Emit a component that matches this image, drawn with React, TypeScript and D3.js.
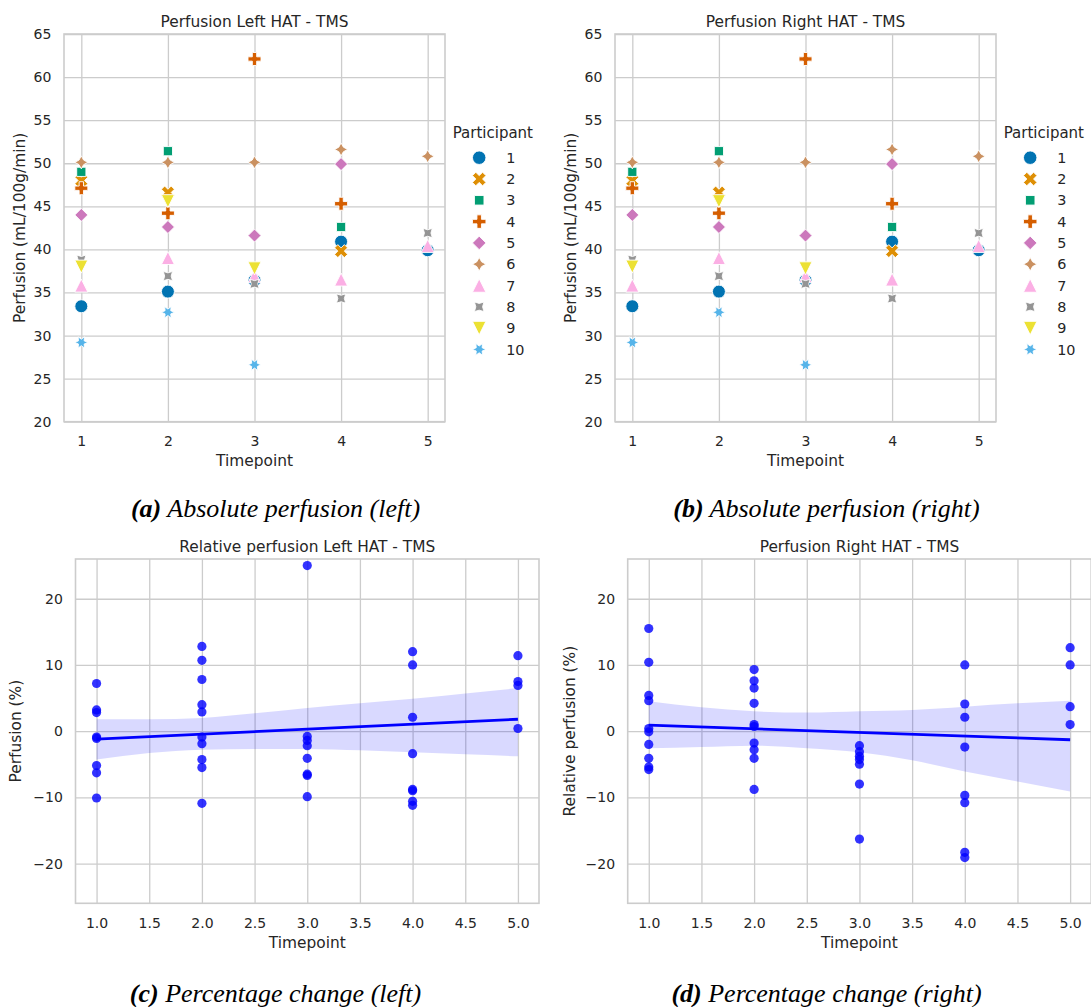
import React, { useEffect, useRef } from 'react'
import * as d3 from 'd3'

const timepoints = [1, 2, 3, 4, 5]
const participants = ['1', '2', '3', '4', '5', '6', '7', '8', '9', '10']
// seaborn "colorblind" palette
const palette = ['#0173b2', '#de8f05', '#029e73', '#d55e00', '#cc78bc', '#ca9161', '#fbafe4', '#949494', '#ece133', '#56b4e9']

// absolute perfusion (mL/100g/min), one row per participant, timepoints 1..5 (null = no scan)
const perfusionLeft: (number | null)[][] = [
  [33.4, 35.1, 36.4, 40.9, 39.9],
  [48.0, 46.6, null, 39.8, null],
  [49.0, 51.4, null, 42.6, null],
  [47.1, 44.2, 62.1, 45.3, null],
  [44.0, 42.6, 41.6, 49.9, null],
  [50.1, 50.1, 50.1, 51.6, 50.8],
  [35.8, 39.0, 36.9, 36.5, 40.4],
  [38.8, 36.9, 36.0, 34.3, 41.9],
  [38.0, 45.6, 37.8, null, null],
  [29.2, 32.7, 26.6, null, null],
]
// right panel shows the same values as the left one
const perfusionRight: (number | null)[][] = [
  [33.4, 35.1, 36.4, 40.9, 39.9],
  [48.0, 46.6, null, 39.8, null],
  [49.0, 51.4, null, 42.6, null],
  [47.1, 44.2, 62.1, 45.3, null],
  [44.0, 42.6, 41.6, 49.9, null],
  [50.1, 50.1, 50.1, 51.6, 50.8],
  [35.8, 39.0, 36.9, 36.5, 40.4],
  [38.8, 36.9, 36.0, 34.3, 41.9],
  [38.0, 45.6, 37.8, null, null],
  [29.2, 32.7, 26.6, null, null],
]

// relative change (%), one list per timepoint
const relLeft = [
  [7.2, 3.2, 2.8, -0.9, -1.1, -5.2, -6.3, -10.1],
  [12.8, 10.7, 7.8, 4.0, 2.9, -0.9, -1.9, -4.3, -5.5, -10.9],
  [25.0, -0.8, -1.4, -2.2, -4.1, -6.5, -6.7, -9.9],
  [12.0, 10.0, 2.1, -3.4, -8.8, -9.0, -10.6, -11.2],
  [11.4, 7.5, 6.9, 0.4],
]
const relRight = [
  [15.5, 10.4, 5.4, 4.6, 0.4, -0.1, -2.0, -4.1, -5.4, -5.8],
  [9.3, 7.6, 6.5, 4.2, 1.0, 0.7, -1.8, -2.8, -4.1, -8.8],
  [-2.2, -3.1, -3.8, -4.3, -5.0, -8.0, -16.3],
  [10.0, 4.1, 2.1, -2.4, -9.7, -10.8, -18.3, -19.1],
  [12.6, 10.0, 3.7, 1.0],
]

// regression line and its 95% band
const fitX = [1, 5]
const fitLeft = [-1.2, 1.8]
const fitRight = [0.9, -1.3]
const ciX = [1, 1.5, 2, 2.5, 3, 3.5, 4, 4.5, 5]
const ciLeftLow = [-4.3, -3.3, -2.8, -2.7, -2.7, -2.9, -3.2, -3.5, -3.8]
const ciLeftHigh = [1.8, 1.8, 2.0, 2.7, 3.5, 4.2, 4.9, 5.7, 6.5]
const ciRightLow = [-2.6, -2.4, -2.2, -2.6, -3.2, -4.4, -6.1, -7.6, -9.1]
const ciRightHigh = [4.5, 3.6, 3.0, 2.8, 3.0, 3.2, 3.7, 4.2, 4.6]

const absTicks = [20, 25, 30, 35, 40, 45, 50, 55, 60, 65]
const relTicks = [-20, -10, 0, 10, 20]
const relXTicks = [1, 1.5, 2, 2.5, 3, 3.5, 4, 4.5, 5]

const FONT = '"DejaVu Sans", sans-serif'
const SERIF = '"Liberation Serif", "Times New Roman", serif'
const INK = '#262626'
const GRID = '#cccccc'

type Pt = [number, number]
const poly = (pts: Pt[]) => 'M' + pts.map(p => p[0].toFixed(2) + ',' + p[1].toFixed(2)).join('L') + 'Z'

// matplotlib-style regular polygon / star, outer radius size/2
function regular(n: number, rot: number, size: number, star: boolean) {
  const k = star ? n * 2 : n
  const pts: Pt[] = []
  for (let i = 0; i < k; i++) {
    const a = ((90 + rot + (i * 360) / k) * Math.PI) / 180
    const r = ((star && i % 2 === 1 ? 0.5 : 1) * size) / 2
    pts.push([r * Math.cos(a), -r * Math.sin(a)])
  }
  return poly(pts)
}

const X_PTS: Pt[] = [[-1, -2], [0, -1], [1, -2], [2, -1], [1, 0], [2, 1], [1, 2], [0, 1], [-1, 2], [-2, 1], [-1, 0], [-2, -1]]
const P_PTS: Pt[] = [[-1, -3], [1, -3], [1, -1], [3, -1], [3, 1], [1, 1], [1, 3], [-1, 3], [-1, 1], [-3, 1], [-3, -1], [-1, -1]]

// seaborn default style markers: o, X, (4,0,45), P, (4,0,0), (4,1,0), ^, (4,1,45), v, (6,1,30)
function markerPath(i: number, size: number) {
  const h = size / 2
  switch (i) {
    case 0: return `M${h},0A${h},${h} 0 1 1 ${-h},0A${h},${h} 0 1 1 ${h},0Z`
    case 1: return poly(X_PTS.map(([x, y]) => [(x / 4) * size, (-y / 4) * size] as Pt))
    case 2: return regular(4, 45, size, false)
    case 3: return poly(P_PTS.map(([x, y]) => [(x / 6) * size, (-y / 6) * size] as Pt))
    case 4: return regular(4, 0, size, false)
    case 5: return regular(4, 0, size, true)
    case 6: return poly([[0, -h], [-h, h], [h, h]])
    case 7: return regular(4, 45, size, true)
    case 8: return poly([[0, h], [-h, -h], [h, -h]])
    default: return regular(6, 30, size, true)
  }
}

type Box = { x0: number; x1: number; y0: number; y1: number }

function styleAxis(g: any) {
  g.select('.domain').remove()
  g.selectAll('line').attr('stroke', GRID).attr('stroke-width', 1.3)
  g.selectAll('text').attr('fill', INK).attr('font-family', FONT).attr('font-size', 14)
}

function frame(svg: any, box: Box, x: any, y: any, xticks: number[], yticks: number[], xfmt: any, yfmt: any,
  title: string, ylabel: string, ylabelX: number) {
  const g = svg.append('g')
  g.append('g')
    .attr('transform', `translate(0,${box.y1})`)
    .call(d3.axisBottom(x).tickValues(xticks).tickSize(-(box.y1 - box.y0)).tickPadding(14.4).tickFormat(xfmt))
    .call(styleAxis)
  g.append('g')
    .attr('transform', `translate(${box.x0},0)`)
    .call(d3.axisLeft(y).tickValues(yticks).tickSize(-(box.x1 - box.x0)).tickPadding(12.6).tickFormat(yfmt))
    .call(styleAxis)
  g.append('rect')
    .attr('x', box.x0).attr('y', box.y0)
    .attr('width', box.x1 - box.x0).attr('height', box.y1 - box.y0)
    .attr('fill', 'none').attr('stroke', GRID).attr('stroke-width', 1.6)
  const cx = (box.x0 + box.x1) / 2
  g.append('text').attr('x', cx).attr('y', box.y0 - 7.4).attr('text-anchor', 'middle')
    .attr('font-family', FONT).attr('font-size', 15.4).attr('fill', INK).text(title)
  g.append('text').attr('x', cx).attr('y', box.y1 + 44.3).attr('text-anchor', 'middle')
    .attr('font-family', FONT).attr('font-size', 15.4).attr('fill', INK).text('Timepoint')
  g.append('text')
    .attr('transform', `translate(${ylabelX},${(box.y0 + box.y1) / 2}) rotate(-90)`)
    .attr('text-anchor', 'middle')
    .attr('font-family', FONT).attr('font-size', 15.4).attr('fill', INK).text(ylabel)
  return g
}

function drawAbsolute(svg: any, box: Box, data: (number | null)[][], title: string, ylabelX: number, legendX: number) {
  const x = d3.scaleLinear().domain([0.8, 5.2]).range([box.x0, box.x1])
  const y = d3.scaleLinear().domain([20, 65]).range([box.y1, box.y0])
  const g = frame(svg, box, x, y, timepoints, absTicks, d3.format('d'), d3.format('d'),
    title, 'Perfusion (mL/100g/min)', ylabelX)

  data.forEach((row, p) => {
    row.forEach((v, t) => {
      if (v === null) return
      g.append('path')
        .attr('d', markerPath(p, 13))
        .attr('transform', `translate(${x(timepoints[t])},${y(v)})`)
        .attr('fill', palette[p])
        .attr('stroke', '#fff')
        .attr('stroke-width', 0.9)
    })
  })

  // legend
  const leg = svg.append('g')
  leg.append('text').attr('x', legendX).attr('y', 137.6)
    .attr('font-family', FONT).attr('font-size', 15).attr('fill', INK).text('Participant')
  const ly = d3.scalePoint().domain(participants).range([157.7, 349.4])
  participants.forEach((name, p) => {
    leg.append('path')
      .attr('d', markerPath(p, 13.5))
      .attr('transform', `translate(${legendX + 26.5},${ly(name)})`)
      .attr('fill', palette[p])
      .attr('stroke', '#fff')
      .attr('stroke-width', 0.9)
    leg.append('text').attr('x', legendX + 53.5).attr('y', (ly(name) as number) + 5.1)
      .attr('font-family', FONT).attr('font-size', 14.4).attr('fill', INK).text(name)
  })
}

function drawRelative(svg: any, box: Box, data: number[][], fit: number[], lo: number[], hi: number[],
  title: string, ylabel: string, ylabelX: number) {
  const x = d3.scaleLinear().domain([0.8, 5.2]).range([box.x0, box.x1])
  const y = d3.scaleLinear().domain([-26, 26]).range([box.y1, box.y0])
  const minus = (v: number) => (v < 0 ? '\u2212' + Math.abs(v) : String(v))
  const g = frame(svg, box, x, y, relXTicks, relTicks, d3.format('.1f'), minus, title, ylabel, ylabelX)

  data.forEach((vals, t) => {
    vals.forEach(v => {
      g.append('circle')
        .attr('cx', x(timepoints[t])).attr('cy', y(v)).attr('r', 4.6)
        .attr('fill', 'blue').attr('fill-opacity', 0.8)
    })
  })

  const band = d3.area<number>()
    .x((_, i) => x(ciX[i]))
    .y0((_, i) => y(lo[i]))
    .y1((_, i) => y(hi[i]))
    .curve(d3.curveMonotoneX)
  g.append('path').attr('d', band(ciX)).attr('fill', 'blue').attr('fill-opacity', 0.15)

  const line = d3.line<number>().x((_, i) => x(fitX[i])).y(v => y(v))
  g.append('path').attr('d', line(fit)).attr('fill', 'none').attr('stroke', 'blue').attr('stroke-width', 2.8)
}

function caption(svg: any, cx: number, by: number, tag: string, rest: string) {
  const t = svg.append('text').attr('x', cx).attr('y', by).attr('text-anchor', 'middle')
    .attr('font-family', SERIF).attr('font-size', 26).attr('font-style', 'italic').attr('fill', '#000')
  t.append('tspan').attr('font-weight', 'bold').text(tag)
  t.append('tspan').text(' ' + rest)
}

export default function App() {
  const ref = useRef<SVGSVGElement>(null)

  useEffect(() => {
    const svg = d3.select(ref.current)
    svg.selectAll('*').remove()

    drawAbsolute(svg, { x0: 64, x1: 445, y0: 34, y1: 421.7 }, perfusionLeft, 'Perfusion Left HAT - TMS', 25, 452.7)
    drawAbsolute(svg, { x0: 615, x1: 996, y0: 34, y1: 421.7 }, perfusionRight, 'Perfusion Right HAT - TMS', 576, 1003.7)

    drawRelative(svg, { x0: 75.5, x1: 539, y0: 559, y1: 903.3 }, relLeft, fitLeft, ciLeftLow, ciLeftHigh,
      'Relative perfusion Left HAT - TMS', 'Perfusion (%)', 21)
    drawRelative(svg, { x0: 627.7, x1: 1091.2, y0: 559, y1: 903.3 }, relRight, fitRight, ciRightLow, ciRightHigh,
      'Perfusion Right HAT - TMS', 'Relative perfusion (%)', 575)

    caption(svg, 275.5, 516.5, '(a)', 'Absolute perfusion (left)')
    caption(svg, 826.5, 516.5, '(b)', 'Absolute perfusion (right)')
    caption(svg, 275.5, 1001.5, '(c)', 'Percentage change (left)')
    caption(svg, 826.5, 1001.5, '(d)', 'Percentage change (right)')
  }, [])

  return (
    <svg ref={ref} width={1091} height={1007}
      style={{ position: 'absolute', left: 0, top: 0, background: '#fff', display: 'block' }} />
  )
}
